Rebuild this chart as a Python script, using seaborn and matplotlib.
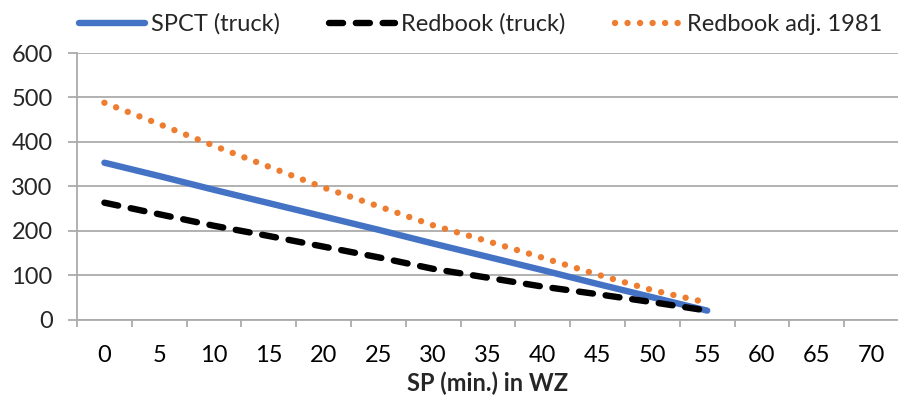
import matplotlib
matplotlib.use("Agg")
import matplotlib.pyplot as plt
import seaborn as sns
import numpy as np
import pandas as pd
from matplotlib.lines import Line2D

# ---- data ----
categories = [0, 5, 10, 15, 20, 25, 30, 35, 40, 45, 50, 55, 60, 65, 70]
sp_min = [0, 5, 10, 15, 20, 25, 30, 35, 40, 45, 50, 55]
spct_truck = [353, 323, 292, 262, 232, 202, 171, 141, 111, 80, 50, 20]
redbook_truck = [263, 237, 211, 188, 164, 140, 114, 94, 74, 57, 39, 20]
redbook_adj_1981 = [488, 440, 391, 344, 297, 255, 212, 176, 139, 101, 66, 38]
y_ticks = [0, 100, 200, 300, 400, 500, 600]
series_names = ["SPCT (truck)", "Redbook (truck)", "Redbook adj. 1981"]

sns.set_theme(style="white")
plt.rcParams["font.family"] = ["Lato", "DejaVu Sans"]

BLUE = "#4472C4"
ORANGE = "#ED7D31"
GRID = "#ababab"
FS = 17
LW = 4.6
DASH = (0, (2.2, 2.0))
DOT = (0, (0.01, 1.95))

fig = plt.figure(figsize=(8.98, 3.99), dpi=100)
ax = fig.add_axes([77 / 898, 1 - 319.5 / 399, 822 / 898, 266.5 / 399])

pos = [categories.index(v) for v in sp_min]
df = pd.DataFrame({"pos": pos, "spct": spct_truck, "rb": redbook_truck, "adj": redbook_adj_1981})

sns.lineplot(data=df, x="pos", y="spct", color=BLUE, linewidth=LW,
             solid_capstyle="round", ax=ax, zorder=3)
sns.lineplot(data=df, x="pos", y="rb", color="black", linewidth=LW,
             linestyle=DASH, dash_capstyle="round", ax=ax, zorder=4)
sns.lineplot(data=df, x="pos", y="adj", color=ORANGE, linewidth=LW,
             linestyle=DOT, dash_capstyle="round", ax=ax, zorder=5)

ax.set_xlim(-0.5, 14.5)
ax.set_ylim(0, 600)
ax.set_xticks(range(len(categories)))
ax.set_xticklabels([str(c) for c in categories], fontsize=FS)
ax.set_xticks(np.arange(-0.5, len(categories) + 0.5, 1), minor=True)
ax.set_yticks(y_ticks)
ax.set_yticklabels([str(v) for v in y_ticks], fontsize=FS)

ax.yaxis.grid(True, color=GRID, lw=1.3)
ax.xaxis.grid(False)
for s in ["top", "right"]:
    ax.spines[s].set_visible(False)
for s in ["left", "bottom"]:
    ax.spines[s].set_color(GRID)
    ax.spines[s].set_linewidth(1.3)

ax.tick_params(axis="x", which="major", length=0, pad=18, colors="black")
ax.tick_params(axis="x", which="minor", length=5, width=1.3, color=GRID, bottom=True)
ax.tick_params(axis="y", length=6.5, width=1.3, color=GRID, pad=11, left=True)

ax.set_xlabel("SP (min.) in WZ", fontsize=FS, fontweight="bold", labelpad=4)
ax.set_ylabel("")

handles = [
    Line2D([], [], color=BLUE, lw=LW, solid_capstyle="round"),
    Line2D([], [], color="black", lw=LW, linestyle=DASH, dash_capstyle="round"),
    Line2D([], [], color=ORANGE, lw=LW, linestyle=DOT, dash_capstyle="round"),
]
fig.legend(handles, series_names, loc="upper center", bbox_to_anchor=(0.535, 1.02),
           ncol=3, frameon=False, fontsize=FS, handlelength=2.8, handletextpad=0.25,
           columnspacing=2.1)

fig.savefig("out.png", dpi=100)
